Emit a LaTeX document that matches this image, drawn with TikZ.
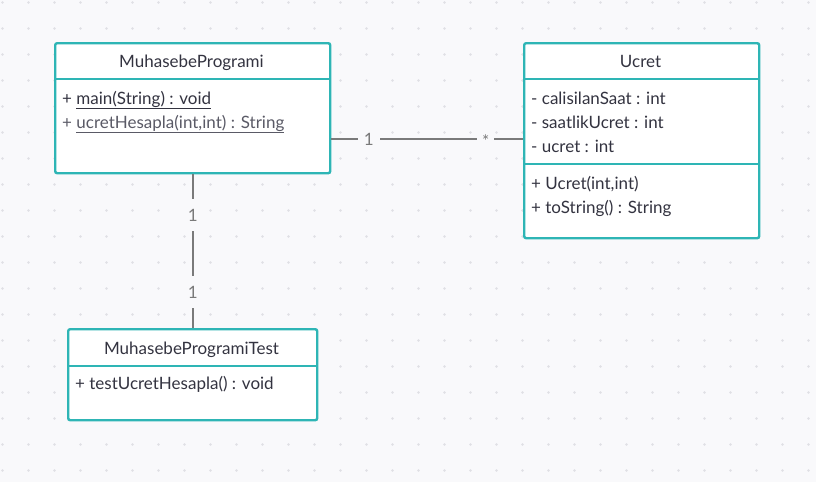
\documentclass[tikz,border=0pt]{standalone}
\usepackage{fontspec}
\setmainfont{Lato}
\usetikzlibrary{calc}
\definecolor{bg}{HTML}{F9F9FB}
\definecolor{dotc}{HTML}{E0E0E5}
\definecolor{teal}{HTML}{2EB5B5}
\definecolor{txt}{HTML}{333340}
\definecolor{txtl}{HTML}{5A5A66}
\definecolor{linec}{HTML}{7A7A7A}
\tikzset{
  classbox/.style={draw=teal, line width=2.4pt, fill=white, rounded corners=2pt, inner sep=0pt, anchor=north west},
  divider/.style={draw=teal, line width=2.4pt},
  title/.style={font=\fontsize{17}{20}\selectfont, text=txt, anchor=base, inner sep=0pt},
  member/.style={font=\fontsize{17}{20}\selectfont, text=txt, anchor=base west, inner sep=0pt},
  assoc/.style={draw=linec, line width=2pt},
  mult/.style={font=\fontsize{17}{20}\selectfont, text=linec, fill=bg, inner xsep=6pt, inner ysep=3pt}
}
\newcommand{\ul}[1]{\underline{#1}}
\begin{document}
\begin{tikzpicture}[x=1pt,y=-1pt]
\useasboundingbox (0,0) rectangle (816,482);
\fill[bg] (0,0) rectangle (816,482);
\foreach \i in {0,...,31}{\foreach \j in {0,...,18}{
  \fill[dotc] (2.5+26*\i,2.5+26*\j) circle (1.3pt);}}
% boxes
\node[classbox, minimum width=275pt, minimum height=130pt] (mp) at (54,42) {};
\node[classbox, minimum width=235pt, minimum height=195pt] (uc) at (523,42) {};
\node[classbox, minimum width=249pt, minimum height=91pt] (mt) at (67,328) {};
% connectors
\coordinate (hl) at (0,139);
\draw[assoc] (mp.east |- hl) -- node[mult, pos=0.195] (m1) {1} node[mult, pos=0.805, yshift=-2pt, inner xsep=5pt] (m2) {*} (uc.west |- hl);
\draw[assoc] (mp.south) -- node[mult, pos=0.265, inner ysep=10pt] (m3) {1} node[mult, pos=0.765, inner ysep=10pt] (m4) {1} (mt.north);
% dividers
\draw[divider] (mp.west |- 0,79) -- (mp.east |- 0,79);
\draw[divider] (uc.west |- 0,79) -- (uc.east |- 0,79);
\draw[divider] (uc.west |- 0,164) -- (uc.east |- 0,164);
\draw[divider] (mt.west |- 0,366) -- (mt.east |- 0,366);
% MuhasebeProgrami
\node[title] (mpt) at (191.5,67) {MuhasebeProgrami};
\node[member] (mp1) at (62,104) {+ \ul{main(String) : void}};
\node[member, text=txtl] (mp2) at (62,128) {+ \ul{ucretHesapla(int,int) : String}};
% Ucret
\node[title] (uct) at (640.5,67) {Ucret};
\node[member] (uc1) at (531,104) {- calisilanSaat : int};
\node[member] (uc2) at (531,128) {- saatlikUcret : int};
\node[member] (uc3) at (531,152) {- ucret : int};
\node[member] (uc4) at (531,189) {+ Ucret(int,int)};
\node[member] (uc5) at (531,213) {+ toString() : String};
% Test
\node[title] (mtt) at (191.5,354) {MuhasebeProgramiTest};
\node[member] (mt1) at (75,389) {+ testUcretHesapla() : void};
\end{tikzpicture}
\end{document}
